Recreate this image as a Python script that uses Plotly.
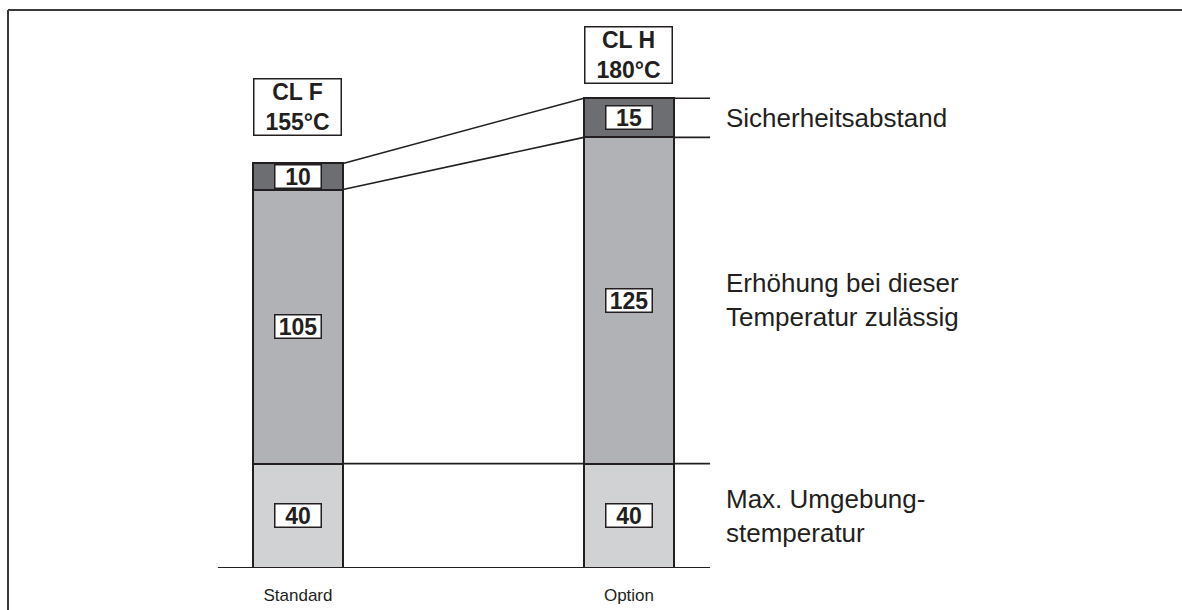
import plotly.graph_objects as go

# Temperature build-up per insulation class (values in °C / K)
categories = ["Standard", "Option"]
ambient = [40, 40]            # max. ambient temperature
rise = [105, 125]             # permissible temperature rise
margin_k = [10, 15]           # safety margin
class_labels = ["CL F", "CL H"]
class_temps = ["155°C", "180°C"]
legend_texts = ["Sicherheitsabstand",
                "Erhöhung bei dieser<br>Temperatur zulässig",
                "Max. Umgebung-<br>stemperatur"]

INK = "#231f20"
COL_LIGHT = "#d1d2d4"
COL_MID = "#b1b2b5"
COL_DARK = "#6d6e71"
FONT = "Liberation Sans, Arial, sans-serif"
BAR_W = 0.272
RIGHT_END = 1.245
LABEL_X = 1.287
BASE_LEFT = -0.242

fig = go.Figure()
for vals, col in [(ambient, COL_LIGHT), (rise, COL_MID), (margin_k, COL_DARK)]:
    fig.add_trace(go.Bar(
        x=categories, y=vals, width=BAR_W,
        marker=dict(color=col, line=dict(color=INK, width=2)),
        hoverinfo="skip", showlegend=False))

lower = [a + r for a, r in zip(ambient, rise)]
total = [l + m for l, m in zip(lower, margin_k)]

line = dict(color=INK, width=1.6)
left_edge = BAR_W / 2
right_edge = 1 - BAR_W / 2
shapes = []
# baseline
shapes.append(dict(type="line", xref="x", yref="y", x0=BASE_LEFT, x1=RIGHT_END,
                   y0=0, y1=0, line=dict(color=INK, width=2), layer="below"))
# ambient level across both columns
shapes.append(dict(type="line", xref="x", yref="y", x0=left_edge, x1=RIGHT_END,
                   y0=ambient[0], y1=ambient[1], line=line, layer="below"))
# connectors between the two columns
shapes.append(dict(type="line", xref="x", yref="y", x0=left_edge, x1=right_edge,
                   y0=total[0], y1=total[1], line=line, layer="below"))
shapes.append(dict(type="line", xref="x", yref="y", x0=left_edge, x1=right_edge,
                   y0=lower[0], y1=lower[1], line=line, layer="below"))
# short leaders to the right-hand descriptions
for yv in (total[1], lower[1]):
    shapes.append(dict(type="line", xref="x", yref="y", x0=1 + BAR_W / 2, x1=RIGHT_END,
                       y0=yv, y1=yv, line=line, layer="below"))
# outer frame (top and left edges)
fx = 8 / 1182
fy = (568 - 10) / 568
frame = dict(color="#3a3a3a", width=2)
shapes.append(dict(type="line", xref="paper", yref="paper", x0=fx, x1=1.02,
                   y0=fy, y1=fy, line=frame))
shapes.append(dict(type="line", xref="paper", yref="paper", x0=fx, x1=fx,
                   y0=fy, y1=-0.1, line=frame))

annotations = []
box_font = dict(family=FONT, size=23, color=INK)
# value boxes inside the segments
for i, cat in enumerate(categories):
    segs = [(0, ambient[i]), (ambient[i], rise[i]), (lower[i], margin_k[i])]
    for base, v in segs:
        annotations.append(dict(
            x=cat, y=base + v / 2, xref="x", yref="y", text=f"<b>{v}</b>",
            showarrow=False, font=box_font, bgcolor="white",
            bordercolor=INK, borderwidth=1.5, borderpad=0,
            width=45, height=22))
# insulation class boxes above the columns
class_shift = [27, 14]
for i, cat in enumerate(categories):
    annotations.append(dict(
        x=cat, y=total[i], xref="x", yref="y", yanchor="bottom",
        yshift=class_shift[i],
        text=f"<b>{class_labels[i]}<br>{class_temps[i]}</b>",
        showarrow=False, font=box_font, bgcolor="white",
        bordercolor=INK, borderwidth=1.5, borderpad=0,
        width=86, height=55))
# descriptions on the right
desc_y = [lower[1] + margin_k[1] / 2, ambient[1] + rise[1] / 2, ambient[1] / 2]
for txt, yv in zip(legend_texts, desc_y):
    annotations.append(dict(
        x=LABEL_X, y=yv, xref="x", yref="y", xanchor="left", yanchor="middle",
        align="left", text=txt, showarrow=False,
        font=dict(family=FONT, size=26, color=INK)))

fig.update_layout(
    width=1182, height=610,
    margin=dict(l=0, r=0, t=0, b=42),
    paper_bgcolor="white", plot_bgcolor="white",
    barmode="stack", bargap=0,
    shapes=shapes, annotations=annotations,
    xaxis=dict(type="category", range=[-0.9003, 2.671], showgrid=False,
               zeroline=False, showline=False, ticks="",
               tickfont=dict(family=FONT, size=17, color=INK),
               ticklabelstandoff=15, fixedrange=True),
    yaxis=dict(range=[0, 568 / 2.61], visible=False, fixedrange=True),
)

fig.write_html("out.html")
